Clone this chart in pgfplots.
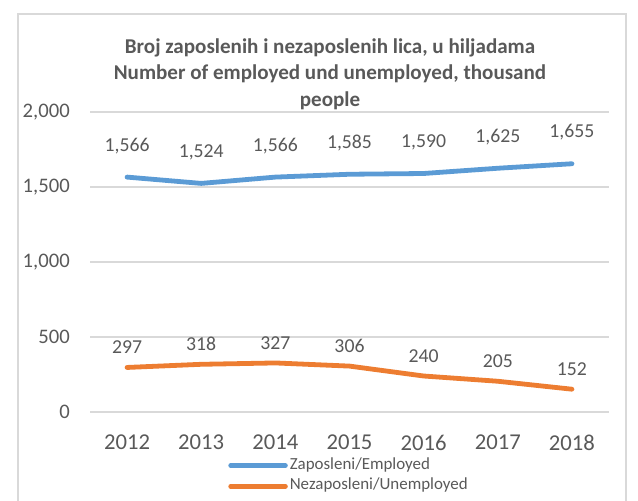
\documentclass[border=0pt]{standalone}
\usepackage{fontspec}
\setmainfont{Carlito}
\usepackage{pgfplots}
\pgfplotsset{compat=1.18}
\definecolor{empblue}{HTML}{5B9BD5}
\definecolor{unorange}{HTML}{ED7D31}
\definecolor{txtgray}{HTML}{595959}
\definecolor{gridgray}{HTML}{D9D9D9}
\begin{document}
\begin{tikzpicture}[x=0.75pt,y=0.75pt]
\useasboundingbox (0,0) rectangle (638,500);
% chart frame (cut off at the bottom)
\draw[gridgray, line width=1pt] (18,-10) -- (18,486) -- (626,486) -- (626,-10);
\node[font=\fontsize{15.8}{20}\selectfont\bfseries, text=txtgray, align=center]
  at (330,426) {Broj zaposlenih i nezaposlenih lica, u hiljadama\\
  Number of employed und unemployed, thousand\\people};
\begin{axis}[
    at={(67.5pt,66pt)}, anchor=south west,
    scale only axis, width=389.25pt, height=225pt,
    xmin=-0.5, xmax=6.5, ymin=0, ymax=2000,
    xtick={0,...,6},
    xticklabels={2012,2013,2014,2015,2016,2017,2018},
    ytick={0,500,1000,1500,2000},
    axis line style={draw=none},
    major tick length=0pt,
    ymajorgrids, grid style={gridgray, line width=1pt},
    /pgf/number format/.cd, 1000 sep={,}, assume math mode=true,
    /pgfplots/.cd,
    yticklabel style={font=\fontsize{15.5}{16}\selectfont, text=txtgray, anchor=east, inner sep=0pt, xshift=-15pt},
    xticklabel style={font=\fontsize{17}{18}\selectfont, text=txtgray, anchor=center, inner sep=0pt, yshift=-23pt},
    nodes near coords,
    every node near coord/.style={font=\fontsize{14.8}{15}\selectfont, text=txtgray, anchor=center, inner sep=0pt},
    legend style={draw=none, fill=none, at={(0.266,-0.15)}, anchor=north west, inner sep=0pt,
        font=\fontsize{12.7}{13}\selectfont, text=txtgray, row sep=3pt,
        nodes={inner sep=1.5pt, text depth=0.2em, text height=0.75em}},
    legend cell align=left,
    legend image code/.code={\draw[#1, line cap=round] (0pt,0pt) -- (41pt,0pt);},
    clip=false,
]
\addplot[empblue, line width=3.6pt, line cap=round, line join=round,
    every node near coord/.append style={yshift=23.5pt}] coordinates {
    (0,1566) (1,1524) (2,1566) (3,1585) (4,1590) (5,1625) (6,1655)
};
\addlegendentry{Zaposleni/Employed}
\addplot[unorange, line width=3.6pt, line cap=round, line join=round,
    every node near coord/.append style={yshift=15pt}] coordinates {
    (0,297) (1,318) (2,327) (3,306) (4,240) (5,205) (6,152)
};
\addlegendentry{Nezaposleni/Unemployed}
\end{axis}
\end{tikzpicture}
\end{document}
